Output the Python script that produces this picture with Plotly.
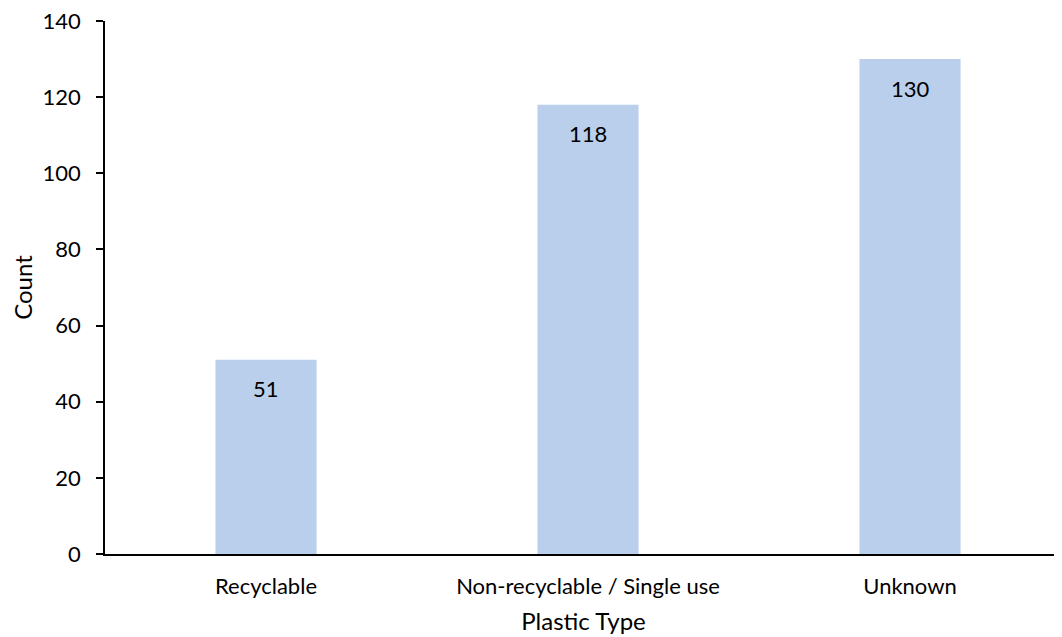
import plotly.graph_objects as go

categories = ["Recyclable", "Non-recyclable / Single use", "Unknown"]
counts = [51, 118, 130]
y_ticks = [0, 20, 40, 60, 80, 100, 120, 140]

FONT = "Lato"
SIZE = 22
TSIZE = 24
fig = go.Figure()
fig.add_trace(go.Bar(
    x=categories, y=counts,
    marker=dict(color="#B9CFEC", line=dict(width=0)),
    width=0.314,
    hoverinfo="skip",
))
for c, v in zip(categories, counts):
    fig.add_annotation(x=c, y=v, text=str(v), showarrow=False, yshift=-29,
                       font=dict(family=FONT, size=SIZE, color="#000000"))

fig.update_layout(
    width=1062, height=637,
    margin=dict(l=97, r=8, t=13, b=91, autoexpand=False),
    plot_bgcolor="white", paper_bgcolor="white",
    showlegend=False,
    font=dict(family=FONT, size=SIZE, color="#000000"),
    xaxis=dict(
        range=[-0.5, 2.472],
        automargin=False,
        showline=True, linecolor="#000000", linewidth=1.5,
        ticks="", showgrid=False, zeroline=False,
        ticklabelstandoff=12,
        title=dict(text="Plastic Type", font=dict(size=TSIZE), standoff=15),
        tickfont=dict(size=SIZE),
    ),
    yaxis=dict(
        range=[0, 140.001],
        automargin=False,
        tickvals=y_ticks,
        showline=True, linecolor="#000000", linewidth=1.5,
        ticks="outside", ticklen=7, tickwidth=1.5, tickcolor="#000000",
        ticklabelstandoff=11,
        ticklabeloverflow="allow",
        showgrid=False, zeroline=False,
        title=dict(text="Count", font=dict(size=TSIZE), standoff=14),
        tickfont=dict(size=SIZE),
    ),
)
fig.write_html("out.html")
